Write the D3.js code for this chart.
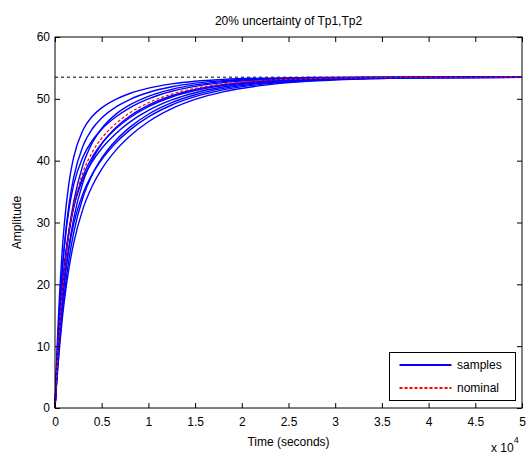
<!DOCTYPE html>
<html>
<head>
<meta charset="utf-8">
<script src="https://cdn.jsdelivr.net/npm/d3@7"></script>
<style>
  body { margin: 0; background: #fff; }
  text { font-family: "Liberation Sans", Arial, sans-serif; fill: #000; }
</style>
</head>
<body>
<div id="wrapper"></div>
<script>
// time grid (seconds)
const times = [0, 150, 300, 500, 750, 1000, 1500, 2000, 3000, 4000, 5000, 6500, 8000, 10000, 12500, 15000, 18000, 22000, 27000, 33000, 40000, 50000]

const sample1  = [0, 6.71, 12.43, 18.76, 24.99, 29.80, 36.45, 40.55, 44.97, 47.19, 48.54, 49.90, 50.86, 51.73, 52.42, 52.85, 53.14, 53.34, 53.44, 53.48, 53.5, 53.5]
const sample2  = [0, 5.64, 10.54, 16.11, 21.78, 26.33, 32.92, 37.30, 42.40, 45.16, 46.91, 48.67, 49.89, 51.03, 51.96, 52.54, 52.95, 53.24, 53.40, 53.47, 53.49, 53.5]
const sample3  = [0, 4.41, 8.37, 13.03, 17.99, 22.15, 28.65, 33.33, 39.36, 42.91, 45.21, 47.49, 49.01, 50.41, 51.54, 52.26, 52.78, 53.15, 53.36, 53.45, 53.49, 53.5]
const sample4  = [0, 5.80, 10.76, 16.29, 21.79, 26.08, 32.16, 36.09, 40.65, 43.27, 45.08, 47.06, 48.55, 49.99, 51.22, 52.02, 52.62, 53.06, 53.31, 53.43, 53.48, 53.5]
const sample5  = [0, 3.99, 7.57, 11.80, 16.33, 20.17, 26.20, 30.63, 36.53, 40.18, 42.70, 45.32, 47.18, 48.97, 50.50, 51.51, 52.29, 52.87, 53.22, 53.39, 53.47, 53.5]
const sample6  = [0, 4.75, 8.91, 13.66, 18.54, 22.51, 28.39, 32.44, 37.52, 40.60, 42.76, 45.15, 46.94, 48.73, 50.30, 51.34, 52.16, 52.79, 53.18, 53.38, 53.46, 53.49]
const sample7  = [0, 5.11, 9.49, 14.39, 19.31, 23.19, 28.77, 32.48, 37.05, 39.88, 41.97, 44.37, 46.24, 48.13, 49.83, 50.99, 51.91, 52.63, 53.09, 53.34, 53.44, 53.49]
const sample8  = [0, 3.63, 6.91, 10.78, 14.95, 18.50, 24.13, 28.34, 34.07, 37.76, 40.40, 43.27, 45.39, 47.51, 49.38, 50.66, 51.69, 52.50, 53.03, 53.31, 53.43, 53.48]
const sample9  = [0, 4.28, 8.04, 12.35, 16.79, 20.43, 25.89, 29.73, 34.69, 37.86, 40.19, 42.86, 44.94, 47.07, 49.00, 50.35, 51.45, 52.34, 52.93, 53.26, 53.41, 53.48]
const sample10 = [0, 3.38, 6.44, 10.06, 13.98, 17.31, 22.65, 26.67, 32.24, 35.94, 38.64, 41.67, 43.96, 46.30, 48.42, 49.91, 51.13, 52.14, 52.82, 53.21, 53.39, 53.47]
const samples = [sample1, sample2, sample3, sample4, sample5, sample6, sample7, sample8, sample9, sample10]

// nominal response
const nominal = [0, 4.56, 8.60, 13.28, 18.18, 22.21, 28.34, 32.66, 38.13, 41.40, 43.63, 45.99, 47.70, 49.36, 50.77, 51.70, 52.41, 52.94, 53.26, 53.41, 53.47, 53.5]

const finalValue = 53.5
const xTicks = [0, 5000, 10000, 15000, 20000, 25000, 30000, 35000, 40000, 45000, 50000]
const xTickLabels = ["0", "0.5", "1", "1.5", "2", "2.5", "3", "3.5", "4", "4.5", "5"]
const yTicks = [0, 10, 20, 30, 40, 50, 60]
const legendLabels = ["samples", "nominal"]
const legendColours = ["#0000ff", "#ff0000"]

function drawChart() {
  let dimensions = {
    width: 526,
    height: 455,
    margin: { top: 37, right: 4, bottom: 47, left: 55 },
  }
  dimensions.boundedWidth = dimensions.width - dimensions.margin.left - dimensions.margin.right
  dimensions.boundedHeight = dimensions.height - dimensions.margin.top - dimensions.margin.bottom

  const wrapper = d3.select("#wrapper")
    .append("svg")
      .attr("width", dimensions.width)
      .attr("height", dimensions.height)

  const bounds = wrapper.append("g")
      .attr("transform", `translate(${dimensions.margin.left},${dimensions.margin.top})`)

  const xScale = d3.scaleLinear()
    .domain([0, 50000])
    .range([0, dimensions.boundedWidth])
  const yScale = d3.scaleLinear()
    .domain([0, 60])
    .range([dimensions.boundedHeight, 0])

  const lineGenerator = d3.line()
    .x((d, i) => xScale(times[i]))
    .y(d => yScale(d))
    .curve(d3.curveMonotoneX)

  // steady state line
  bounds.append("line")
    .attr("x1", 0)
    .attr("x2", dimensions.boundedWidth)
    .attr("y1", yScale(finalValue))
    .attr("y2", yScale(finalValue))
    .attr("stroke", "#000")
    .attr("stroke-dasharray", "3,3")

  bounds.append("g").selectAll("path")
    .data(samples)
    .join("path")
      .attr("d", lineGenerator)
      .attr("fill", "none")
      .attr("stroke", legendColours[0])
      .attr("stroke-width", 1.4)

  bounds.append("path")
    .attr("d", lineGenerator(nominal))
    .attr("fill", "none")
    .attr("stroke", legendColours[1])
    .attr("stroke-width", 1.2)
    .attr("stroke-dasharray", "3,2")

  // axes, ticks pointing inward on all four sides
  const xAxis = bounds.append("g")
    .attr("transform", `translate(0,${dimensions.boundedHeight})`)
    .call(d3.axisBottom(xScale).tickValues(xTicks).tickSizeInner(-5).tickSizeOuter(0)
      .tickFormat((d, i) => xTickLabels[i]))
  xAxis.selectAll("text").attr("dy", "1.05em").attr("y", 5)

  const yAxis = bounds.append("g")
    .call(d3.axisLeft(yScale).tickValues(yTicks).tickSizeInner(-5).tickSizeOuter(0))
  yAxis.selectAll("text").attr("x", -5)

  bounds.append("g")
    .call(d3.axisTop(xScale).tickValues(xTicks).tickSizeInner(-5).tickSizeOuter(0).tickFormat(""))
  bounds.append("g")
    .attr("transform", `translate(${dimensions.boundedWidth},0)`)
    .call(d3.axisRight(yScale).tickValues(yTicks).tickSizeInner(-5).tickSizeOuter(0).tickFormat(""))

  bounds.selectAll(".tick text").style("font-size", "12px").style("font-family", "'Liberation Sans', Arial, sans-serif").attr("fill", "#000")
  bounds.selectAll(".domain").remove()
  bounds.selectAll(".tick line").attr("stroke", "#000")

  bounds.append("rect")
    .attr("width", dimensions.boundedWidth)
    .attr("height", dimensions.boundedHeight)
    .attr("fill", "none")
    .attr("stroke", "#000")

  // labels
  wrapper.append("text")
    .attr("x", dimensions.margin.left + dimensions.boundedWidth / 2)
    .attr("y", 25)
    .attr("text-anchor", "middle")
    .style("font-size", "12px")
    .text("20% uncertainty of Tp1,Tp2")

  wrapper.append("text")
    .attr("x", dimensions.margin.left + dimensions.boundedWidth / 2)
    .attr("y", 446)
    .attr("text-anchor", "middle")
    .style("font-size", "12px")
    .text("Time (seconds)")

  wrapper.append("text")
    .attr("transform", `translate(21,${dimensions.margin.top + dimensions.boundedHeight / 2}) rotate(-90)`)
    .attr("text-anchor", "middle")
    .style("font-size", "12px")
    .text("Amplitude")

  const expLabel = wrapper.append("text")
    .attr("x", 491)
    .attr("y", 452)
    .style("font-size", "12px")
  expLabel.append("tspan").text("x 10")
  expLabel.append("tspan").attr("dy", -9).style("font-size", "9px").text("4")

  // legend
  const legend = wrapper.append("g")
    .attr("transform", "translate(389.5,352.5)")
  legend.append("rect")
    .attr("width", 126)
    .attr("height", 48)
    .attr("fill", "#fff")
    .attr("stroke", "#000")
  const legendItems = legend.selectAll("g")
    .data(legendLabels.map((label, i) => ({ label, colour: legendColours[i], dashed: i === 1 })))
    .join("g")
      .attr("transform", (d, i) => `translate(0,${12.5 + i * 23})`)
  legendItems.append("path")
    .attr("d", "M10,0H62")
    .attr("fill", "none")
    .style("stroke", d => d.colour)
    .style("stroke-width", "2px")
    .style("stroke-dasharray", d => d.dashed ? "3,2" : "none")
  legendItems.append("text")
    .attr("x", 67.5)
    .attr("y", 4)
    .style("font-size", "12px")
    .text(d => d.label)
}
drawChart()
</script>
</body>
</html>
